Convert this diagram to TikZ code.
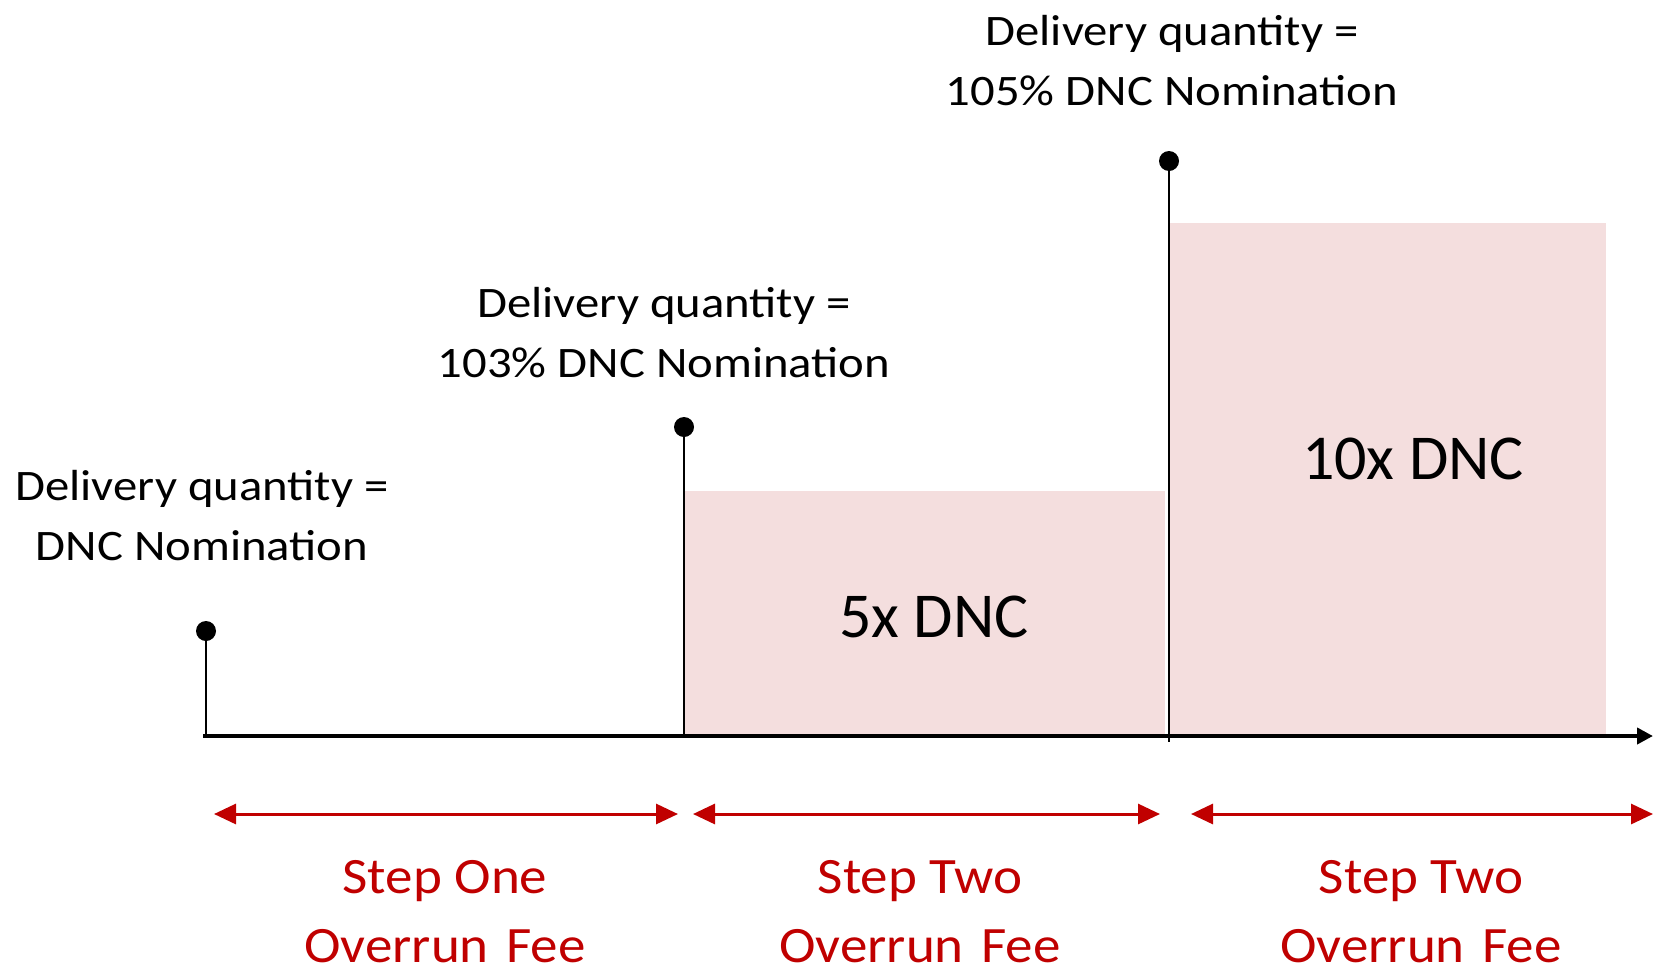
\documentclass[tikz,border=0pt]{standalone}
\usepackage{fontspec}
\setmainfont{Carlito}
\newfontfamily\qfont[FakeStretch=1.12]{Carlito}
\newfontfamily\feefont[FakeStretch=1.08]{Carlito}
\usetikzlibrary{arrows.meta}
\definecolor{stepred}{HTML}{C00000}
\definecolor{feepink}{HTML}{F4DEDE}
\begin{document}
\begin{tikzpicture}[x=1pt,y=-1pt,
  dotnode/.style={circle,fill=black,inner sep=0pt,minimum size=20pt},
  stem/.style={line width=2pt},
  axisline/.style={line width=4pt,-{Triangle[length=16pt,width=16pt]}},
  span/.style={stepred,line width=3pt,{Triangle[length=22pt,width=20pt]}-{Triangle[length=22pt,width=20pt]}},
  qlabel/.style={align=center,inner sep=0pt,font=\qfont\fontsize{43.5}{60}\selectfont},
  feelabel/.style={align=center,inner sep=0pt,text=stepred,font=\feefont\fontsize{51}{69}\selectfont},
  ratelabel/.style={inner sep=0pt,font=\fontsize{64}{70}\selectfont},
  band/.style={fill=feepink}]
\useasboundingbox[fill=white] (0,0) rectangle (1653,972);
% shaded fee bands
\fill[band] (684,491) rectangle (1165,736);
\fill[band] (1169,223) rectangle (1606,736);
\node[ratelabel] (r5) at (934,617) {5x DNC};
\node[ratelabel] (r10) at (1413,459) {10x DNC};
% axis
\coordinate (o) at (203,736);
\coordinate (xend) at (1653,736);
% dots and stems
\node[dotnode] (d1) at (206,631) {};
\node[dotnode] (d2) at (684,427) {};
\node[dotnode] (d3) at (1169,161) {};
\draw[stem] (d1.center) -- (d1 |- o);
\draw[stem] (d2.center) -- (d2 |- o);
\draw[stem] (d3.center) -- ([yshift=-6pt]d3 |- o);
\draw[axisline] (o) -- (xend);
% quantity labels
\node[qlabel] (q1) at (202,516) {Delivery quantity =\\DNC Nomination};
\node[qlabel] (q2) at (664,333) {Delivery quantity =\\103\% DNC Nomination};
\node[qlabel] (q3) at (1172,61) {Delivery quantity =\\105\% DNC Nomination};
% step spans
\coordinate (a1l) at (214,814);
\coordinate (a1r) at (678,814);
\coordinate (a2l) at (693,814);
\coordinate (a2r) at (1160,814);
\coordinate (a3l) at (1191,814);
\coordinate (a3r) at (1653,814);
\draw[span] (a1l) -- (a1r);
\draw[span] (a2l) -- (a2r);
\draw[span] (a3l) -- (a3r);
\node[feelabel] (f1) at (445,912) {Step One\\Overrun\hspace{0.1em} Fee};
\node[feelabel] (f2) at (920,912) {Step Two\\Overrun\hspace{0.1em} Fee};
\node[feelabel] (f3) at (1421,912) {Step Two\\Overrun\hspace{0.1em} Fee};
\end{tikzpicture}
\end{document}
